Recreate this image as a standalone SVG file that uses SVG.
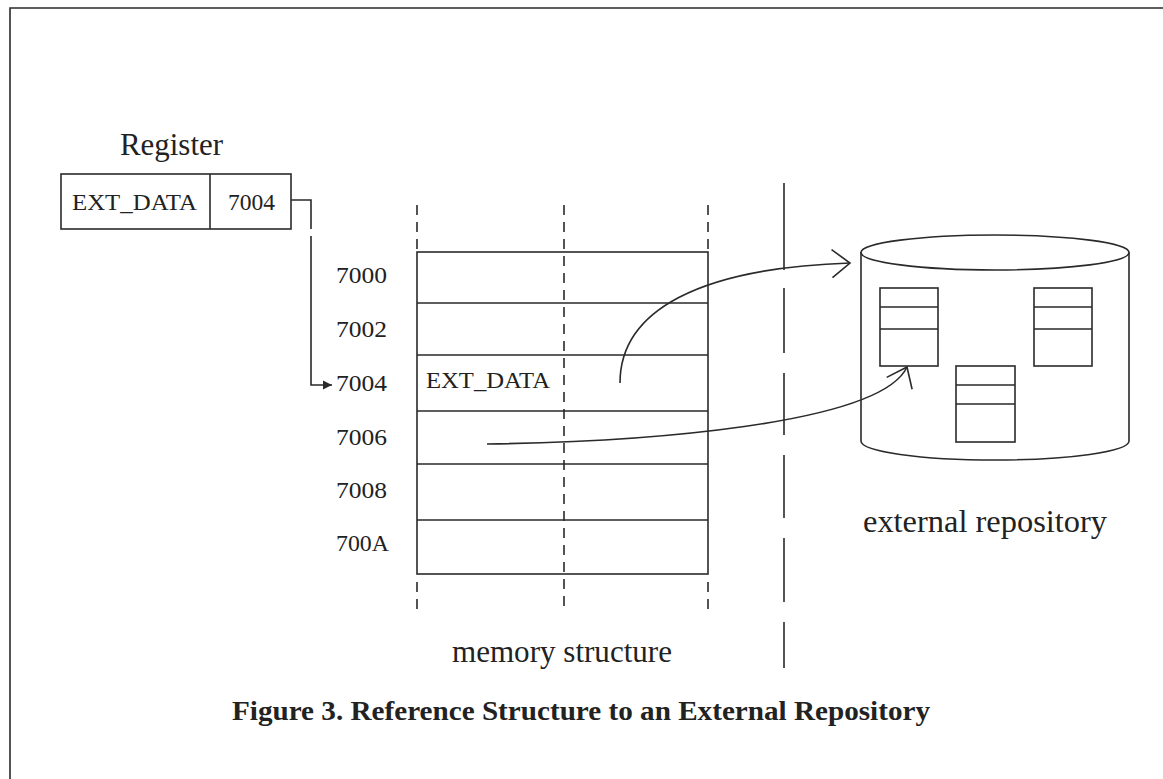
<svg xmlns="http://www.w3.org/2000/svg" width="1163" height="779" viewBox="0 0 1163 779">
  <style>
    .ln { fill: none; stroke: #2a2a2a; stroke-width: 1.6; }
    .box { fill: #ffffff; stroke: #2a2a2a; stroke-width: 1.6; }
    .dash { fill: none; stroke: #2a2a2a; stroke-width: 1.6; stroke-dasharray: 10 7; }
    .t { font-family: "Liberation Serif", "Times New Roman", serif; fill: #222; }
    .lbl { font-size: 24px; }
    .big { font-size: 31px; }
    .cap { font-size: 27px; font-weight: bold; }
  </style>
  <defs>
    <marker id="open-arrow" markerUnits="userSpaceOnUse" viewBox="-22 -17 24 34" markerWidth="24" markerHeight="34" refX="0" refY="0" orient="auto">
      <path d="M-18,-14 L0,0 L-18,14" fill="none" stroke="#2a2a2a" stroke-width="1.6"/>
    </marker>
    <marker id="solid-arrow" markerUnits="userSpaceOnUse" viewBox="-10 -6 12 12" markerWidth="12" markerHeight="12" refX="0" refY="0" orient="auto">
      <path d="M-9,-4.5 L0,0 L-9,4.5 Z" fill="#2a2a2a"/>
    </marker>
  </defs>

  <rect width="1163" height="779" fill="#ffffff"/>

  <!-- page frame -->
  <path class="ln" d="M10,779 L10,8 L1163,8" stroke-width="2"/>

  <!-- register -->
  <g id="register">
    <text class="t big" x="120" y="155" textLength="103" lengthAdjust="spacingAndGlyphs">Register</text>
    <rect class="box" x="61" y="174" width="230" height="55"/>
    <line class="ln" x1="210" y1="174" x2="210" y2="229"/>
    <text class="t lbl" x="72" y="210" textLength="125" lengthAdjust="spacingAndGlyphs">EXT_DATA</text>
    <text class="t lbl" x="228" y="210" textLength="47" lengthAdjust="spacingAndGlyphs">7004</text>
  </g>

  <!-- memory structure -->
  <g id="memory">
    <rect class="box" x="417" y="252" width="291" height="322"/>
    <path class="ln" d="M417,303 H708 M417,355 H708 M417,411 H708 M417,464 H708 M417,520 H708"/>
    <path class="dash" d="M417,205 V252 M417,582 V613 M708,205 V252 M708,582 V613 M564,205 V613"/>
    <g class="t lbl">
      <text x="336" y="283" textLength="51" lengthAdjust="spacingAndGlyphs">7000</text>
      <text x="336" y="337" textLength="51" lengthAdjust="spacingAndGlyphs">7002</text>
      <text x="336" y="391" textLength="51" lengthAdjust="spacingAndGlyphs">7004</text>
      <text x="336" y="445" textLength="51" lengthAdjust="spacingAndGlyphs">7006</text>
      <text x="336" y="498" textLength="51" lengthAdjust="spacingAndGlyphs">7008</text>
      <text x="336" y="551" textLength="53" lengthAdjust="spacingAndGlyphs">700A</text>
      <text x="426" y="388" textLength="124" lengthAdjust="spacingAndGlyphs">EXT_DATA</text>
    </g>
    <text class="t big" x="452" y="662" textLength="220" lengthAdjust="spacingAndGlyphs">memory structure</text>
  </g>

  <!-- boundary between memory and repository -->
  <g id="boundary">
    <path class="ln" d="M784,183 V270 M784,288 V353 M784,373 V435 M784,455 V518 M784,538 V602 M784,622 V668"/>
  </g>

  <!-- external repository -->
  <g id="repository">
    <path class="box" d="M861,252 V441 A134,19 0 0 0 1129,441 V252"/>
    <ellipse class="box" cx="995" cy="252.5" rx="134" ry="17.5"/>
    <rect class="box" x="880" y="288" width="58" height="78"/>
    <path class="ln" d="M880,307 H938 M880,329 H938"/>
    <rect class="box" x="1034" y="288" width="58" height="78"/>
    <path class="ln" d="M1034,307 H1092 M1034,329 H1092"/>
    <rect class="box" x="956" y="366" width="59" height="76"/>
    <path class="ln" d="M956,385 H1015 M956,404 H1015"/>
    <text class="t big" x="863" y="532" font-size="32" textLength="244" lengthAdjust="spacingAndGlyphs">external repository</text>
  </g>

  <!-- connectors -->
  <g id="connectors">
    <path class="ln" d="M291,200 H311 V229 M311,236 V385 H332" marker-end="url(#solid-arrow)"/>
    <path class="ln" d="M620,383 C620,310 700,268 850,263" marker-end="url(#open-arrow)"/>
    <path class="ln" d="M487,444 C640,442 880,425 907,367" marker-end="url(#open-arrow)"/>
  </g>

  <text class="t cap" x="232" y="720" textLength="698" lengthAdjust="spacingAndGlyphs">Figure 3. Reference Structure to an External Repository</text>
</svg>
